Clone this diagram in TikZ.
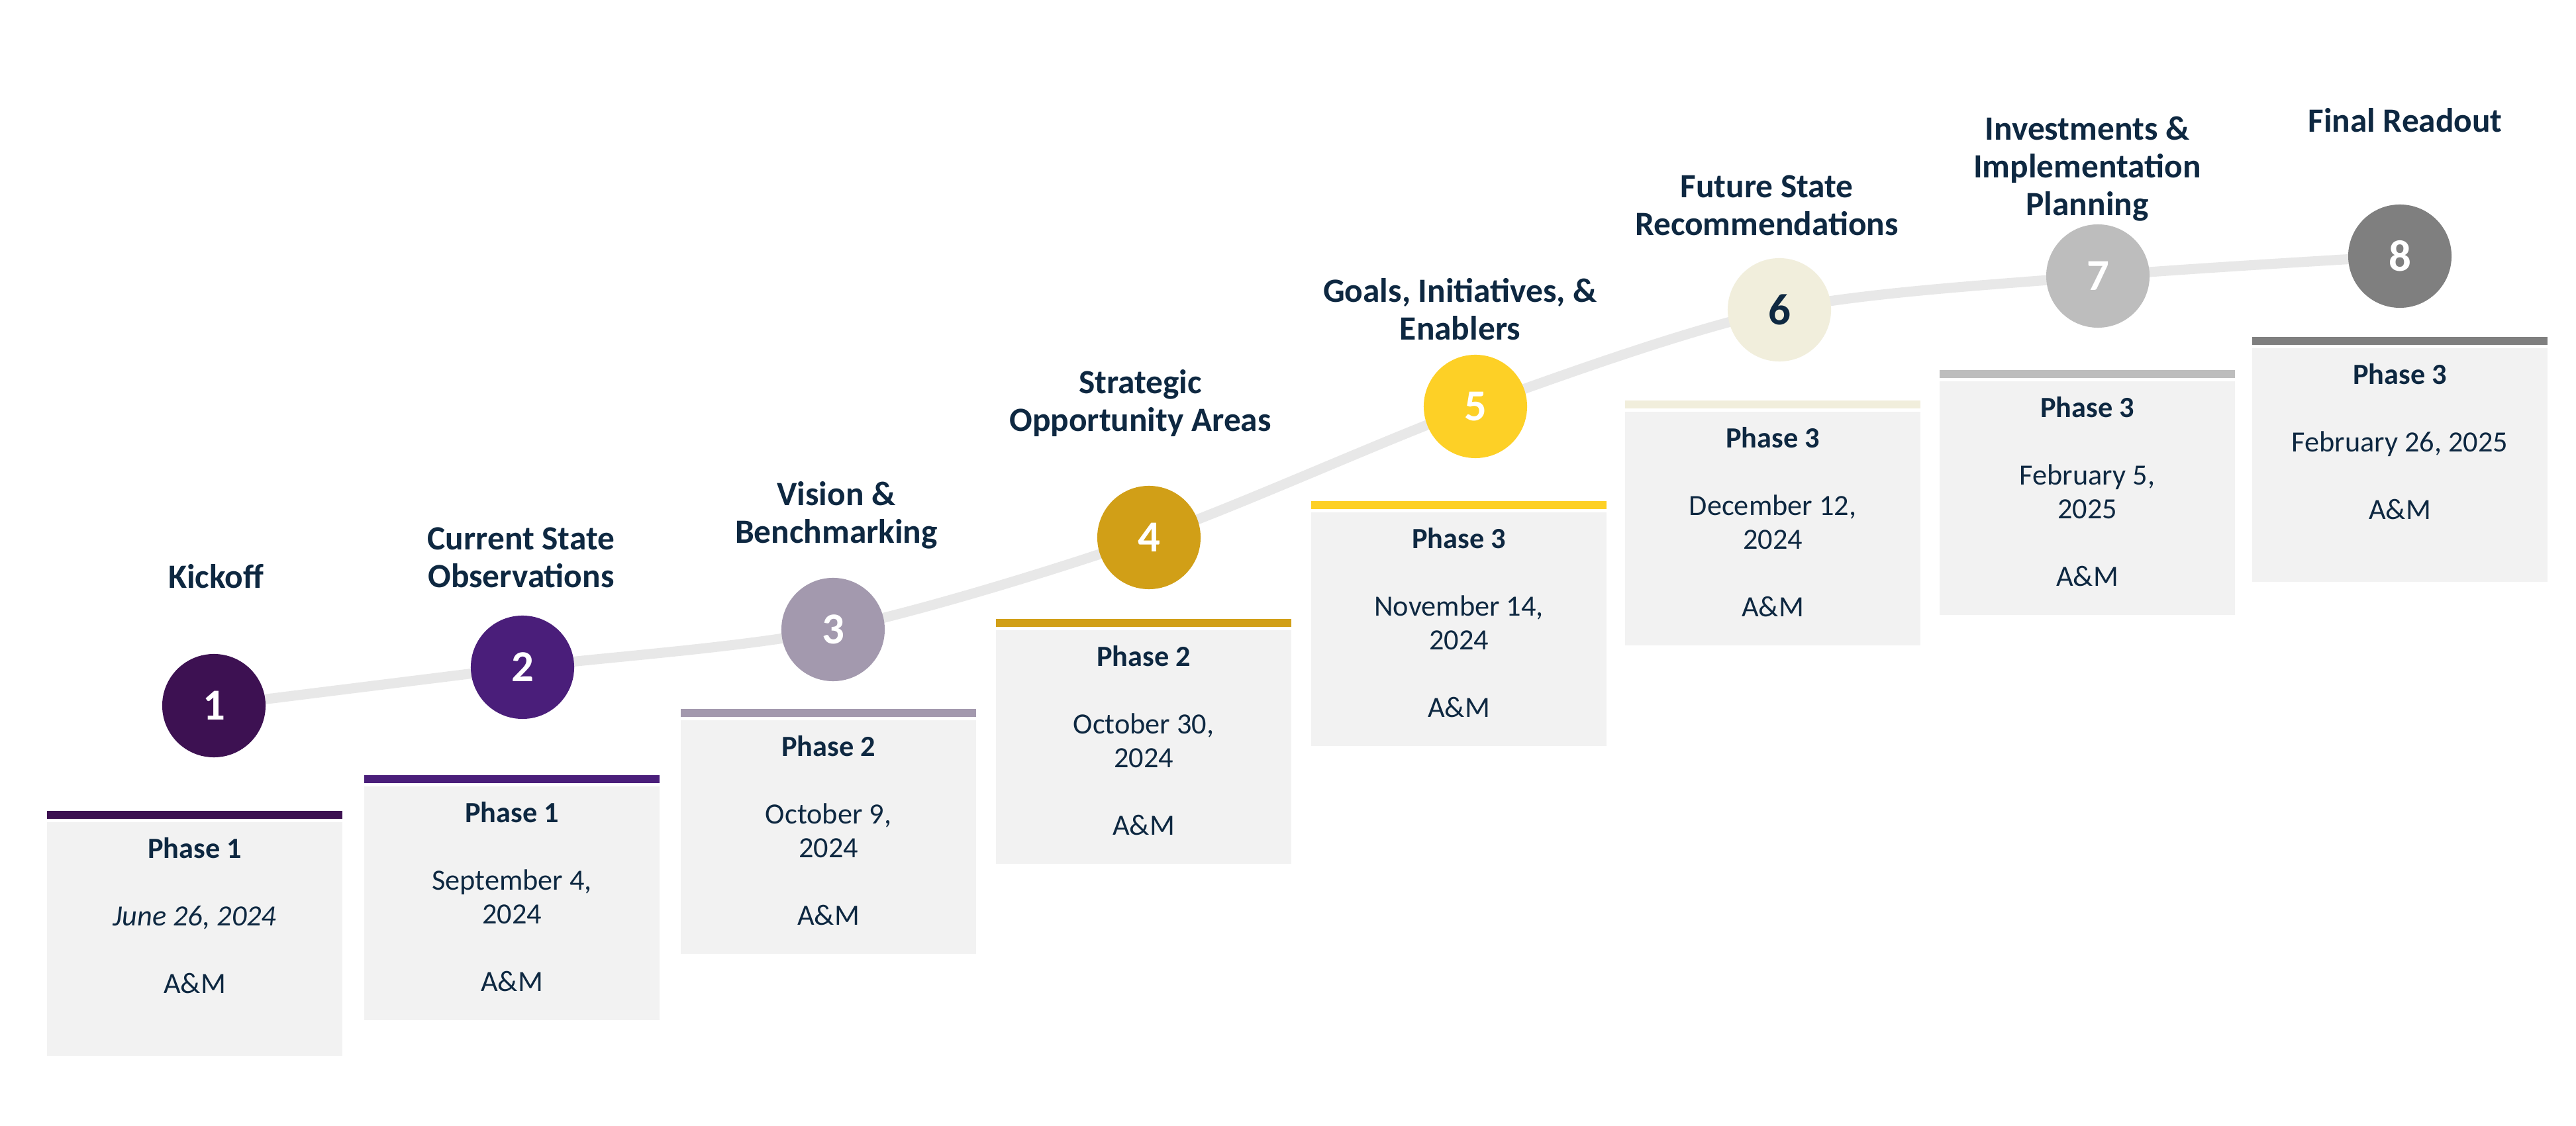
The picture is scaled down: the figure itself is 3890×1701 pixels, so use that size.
\documentclass[tikz,border=0pt]{standalone}
\usepackage{fontspec}
\setmainfont{Carlito}
\usepackage{xcolor}
\usepackage{tikz}
\usetikzlibrary{positioning, backgrounds}
\definecolor{navy}{HTML}{0E2841}
\definecolor{cardgray}{HTML}{F2F2F2}
\definecolor{trackgray}{HTML}{E8E8E8}
\definecolor{col1}{HTML}{3D1152}
\definecolor{col2}{HTML}{4A1E7A}
\definecolor{col3}{HTML}{A399AE}
\definecolor{col4}{HTML}{D19F17}
\definecolor{col5}{HTML}{FDD026}
\definecolor{col6}{HTML}{F1EEDC}
\definecolor{col7}{HTML}{BDBDBD}
\definecolor{col8}{HTML}{7F7F7F}
\tikzstyle{milestone} = [circle, minimum size=1.56cm, inner sep=0pt, text=white, font=\bfseries\fontsize{19}{19}\selectfont]
\tikzstyle{title} = [align=center, text=navy, inner sep=0pt, font=\bfseries\fontsize{14.6}{16.2}\selectfont]
\tikzstyle{card} = [rectangle, minimum width=4.45cm, minimum height=3.53cm, fill=cardgray, anchor=north, inner sep=0pt]
\tikzstyle{cardbar} = [rectangle, minimum width=4.45cm, minimum height=0.12cm, inner sep=0pt]
\tikzstyle{cardtext} = [align=center, text=navy, inner sep=0pt, font=\fontsize{12.6}{14.5}\selectfont]
\tikzstyle{track} = [line width=4.3pt, trackgray]

\begin{document}
\begin{tikzpicture}[x=0.01cm, y=-0.01cm]
        \useasboundingbox (0,0) rectangle (3890,1701);

        % milestones
        \node (m1) [milestone, fill=col1] at (323,1066) {1};
        \node (m2) [milestone, fill=col2] at (789,1008) {2};
        \node (m3) [milestone, fill=col3] at (1258,951) {3};
        \node (m4) [milestone, fill=col4] at (1735,812) {4};
        \node (m5) [milestone, fill=col5] at (2228,614) {5};
        \node (m6) [milestone, fill=col6, text=navy] at (2687,468) {6};
        \node (m7) [milestone, fill=col7] at (3168,417) {7};
        \node (m8) [milestone, fill=col8] at (3624,387) {8};

        % titles
        \node (t1) [title] at (326,871) {Kickoff};
        \node (t2) [title] at (787,842) {Current State\\Observations};
        \node (t3) [title] at (1263,778) {Vision \&\\Benchmarking};
        \node (t4) [title] at (1722,609) {Strategic\\Opportunity Areas};
        \node (t5) [title] at (2205,467) {Goals, Initiatives, \&\\Enablers};
        \node (t6) [title] at (2668,310) {Future State\\Recommendations};
        \node (t7) [title] at (3152,255) {Investments \&\\Implementation\\Planning};
        \node (t8) [title] at (3632,182) {Final Readout};

        % cards
        \node (card1) [card] at (294,1241) {};
        \node (card2) [card] at (773,1187) {};
        \node (card3) [card] at (1251,1087) {};
        \node (card4) [card] at (1727,951) {};
        \node (card5) [card] at (2203,773) {};
        \node (card6) [card] at (2677,621) {};
        \node (card7) [card] at (3152,575) {};
        \node (card8) [card] at (3624,525) {};

        \node (bar1) [cardbar, fill=col1, above=0.035cm of card1] {};
        \node (bar2) [cardbar, fill=col2, above=0.035cm of card2] {};
        \node (bar3) [cardbar, fill=col3, above=0.035cm of card3] {};
        \node (bar4) [cardbar, fill=col4, above=0.035cm of card4] {};
        \node (bar5) [cardbar, fill=col5, above=0.035cm of card5] {};
        \node (bar6) [cardbar, fill=col6, above=0.035cm of card6] {};
        \node (bar7) [cardbar, fill=col7, above=0.035cm of card7] {};
        \node (bar8) [cardbar, fill=col8, above=0.035cm of card8] {};

        \node (info1) [cardtext, below=0.24cm of card1.north] {\textbf{Phase 1}\\[14.5pt]\textit{June 26, 2024}\\[14.5pt]A\&M};
        \node (info2) [cardtext, below=0.24cm of card2.north] {\textbf{Phase 1}\\[14.5pt]September 4,\\2024\\[14.5pt]A\&M};
        \node (info3) [cardtext, below=0.24cm of card3.north] {\textbf{Phase 2}\\[14.5pt]October 9,\\2024\\[14.5pt]A\&M};
        \node (info4) [cardtext, below=0.24cm of card4.north] {\textbf{Phase 2}\\[14.5pt]October 30,\\2024\\[14.5pt]A\&M};
        \node (info5) [cardtext, below=0.24cm of card5.north] {\textbf{Phase 3}\\[14.5pt]November 14,\\2024\\[14.5pt]A\&M};
        \node (info6) [cardtext, below=0.24cm of card6.north] {\textbf{Phase 3}\\[14.5pt]December 12,\\2024\\[14.5pt]A\&M};
        \node (info7) [cardtext, below=0.24cm of card7.north] {\textbf{Phase 3}\\[14.5pt]February 5,\\2025\\[14.5pt]A\&M};
        \node (info8) [cardtext, below=0.24cm of card8.north] {\textbf{Phase 3}\\[14.5pt]February 26, 2025\\[14.5pt]A\&M};

        % track behind the milestones
        \begin{scope}[on background layer]
            \fill [white] (0,0) rectangle (3890,1701);
            \draw [track] plot [smooth] coordinates {(m1.center) (m2.center) (m3.center) (m4.center) (m5.center) (m6.center) (m7.center) (m8.center)};
        \end{scope}
    \end{tikzpicture}
\end{document}
